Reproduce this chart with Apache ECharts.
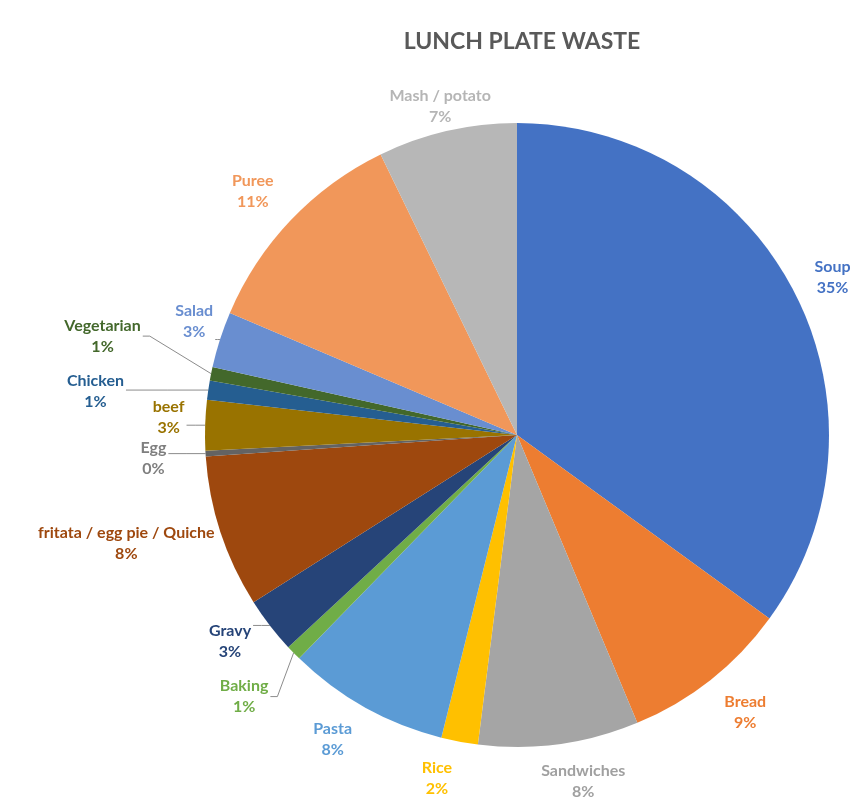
<!DOCTYPE html>
<html>
<head>
<meta charset="utf-8">
<script src="https://cdn.jsdelivr.net/npm/echarts@6/dist/echarts.min.js"></script>
<style>
  html, body { margin: 0; padding: 0; background: #ffffff; }
  #chart { width: 852px; height: 812px; }
</style>
</head>
<body>
<div id="chart"></div>
<script>
// ---- Data (percent of plate waste) ----
var categories = ['Soup', 'Bread', 'Sandwiches', 'Rice', 'Pasta', 'Baking', 'Gravy',
  'fritata / egg pie / Quiche', 'Egg', 'beef', 'Chicken', 'Vegetarian', 'Salad', 'Puree', 'Mash / potato'];
var values = [35.0, 8.7, 8.3, 1.9, 8.4, 0.8, 2.9, 7.9, 0.3, 2.6, 1.0, 0.7, 2.9, 11.4, 7.2];

// ---- Styling ----
var colors = ['#4472C4', '#ED7D31', '#A5A5A5', '#FFC000', '#5B9BD5', '#70AD47', '#264478',
  '#9E480E', '#636363', '#997300', '#255E91', '#43682B', '#698ED0', '#F1975A', '#B7B7B7'];
var labelColors = ['#4472C4', '#ED7D31', '#A0A0A0', '#FFC000', '#5B9BD5', '#70AD47', '#264478',
  '#9E480E', '#7F7F7F', '#997300', '#255E91', '#43682B', '#698ED0', '#F1975A', '#B5B5B5'];
var leaderLabels = ['Baking', 'Gravy', 'Egg', 'beef', 'Chicken', 'Vegetarian', 'Salad'];
var labelNudge = {
  'Soup': [4, 1], 'Bread': [9, 0], 'Sandwiches': [19, -1], 'Rice': [-16, 2], 'Pasta': [-13, -3],
  'Baking': [-18, 13], 'Gravy': [-7, -9], 'fritata / egg pie / Quiche': [3, -21], 'Egg': [-26, 3],
  'beef': [-8, -7], 'Chicken': [-70, 8], 'Vegetarian': [-56, -27], 'Salad': [9, -7],
  'Puree': [-8, 0], 'Mash / potato': [3, 18]
};
var LABEL_GAP = 12;

var pieData = categories.map(function (c, i) {
  return {
    name: c,
    value: values[i],
    itemStyle: { color: colors[i] },
    label: { color: labelColors[i] }
  };
});

var chart = echarts.init(document.getElementById('chart'), null, { renderer: 'canvas' });
chart.setOption({
  backgroundColor: '#ffffff',
  animation: false,
  title: {
    text: 'LUNCH PLATE WASTE',
    left: 517,
    top: 25,
    textAlign: 'center',
    textStyle: { fontFamily: 'Lato', fontWeight: 'bold', fontSize: 23, color: '#595959' }
  },
  series: [{
    type: 'pie',
    center: [517, 435],
    radius: 312,
    startAngle: 90,
    clockwise: true,
    avoidLabelOverlap: false,
    data: pieData,
    itemStyle: { borderWidth: 0 },
    label: {
      show: true,
      position: 'outside',
      fontFamily: 'Lato',
      fontWeight: 'bold',
      fontSize: 16,
      lineHeight: 21,
      formatter: function (p) { return p.name + '\n' + Math.round(p.percent) + '%'; }
    },
    labelLine: {
      show: true,
      length: 10,
      length2: 0,
      lineStyle: { color: '#8C8C8C', width: 1 }
    },
    labelLayout: function (p) {
      var pts = p.labelLinePoints;
      if (!pts) return {};
      var name = categories[p.dataIndex];
      var p0 = pts[0], p1 = pts[1];
      var ux = p1[0] - p0[0], uy = p1[1] - p0[1];
      var L = Math.sqrt(ux * ux + uy * uy) || 1;
      ux /= L; uy /= L;
      var w = p.labelRect.width, h = p.labelRect.height;
      var ext = Math.abs(ux) * w / 2 + Math.abs(uy) * h / 2 + LABEL_GAP;
      var t = labelNudge[name] || [0, 0];
      var cx = p0[0] + ux * ext + t[0];
      var cy = p0[1] + uy * ext + t[1];
      var out = { x: cx, y: cy, align: 'center', verticalAlign: 'middle' };
      if (leaderLabels.indexOf(name) < 0) {
        out.labelLinePoints = [[cx, cy], [cx, cy], [cx, cy]];
      } else {
        var ex = cx < p0[0] ? cx + w / 2 + 2 : cx - w / 2 - 2;
        var dir = cx < p0[0] ? 1 : -1;
        if (p0[1] >= cy - h / 2 && p0[1] <= cy + h / 2) {
          out.labelLinePoints = [[p0[0], p0[1]], [(p0[0] + ex) / 2, p0[1]], [ex, p0[1]]];
        } else {
          out.labelLinePoints = [[p0[0], p0[1]], [ex + dir * 7, cy], [ex, cy]];
        }
      }
      return out;
    }
  }]
});
</script>
</body>
</html>
